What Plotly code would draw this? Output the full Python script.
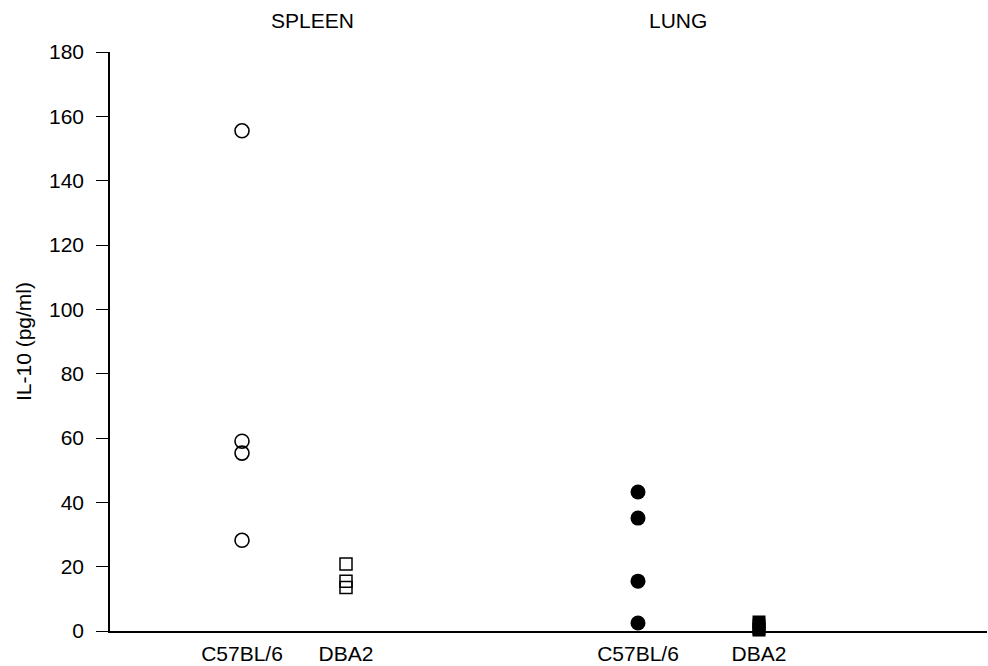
import plotly.graph_objects as go

# Data (IL-10, pg/ml)
spleen_c57 = [155.5, 59.0, 55.3, 28.2]
spleen_dba2 = [20.8, 15.5, 13.5]
lung_c57 = [43.2, 35.1, 15.5, 2.5]
lung_dba2 = [2.8, 1.8, 0.8, 0.3]

tick_labels = ["C57BL/6", "DBA2", "C57BL/6", "DBA2"]
group_titles = ["SPLEEN", "LUNG"]
y_ticks = [0, 20, 40, 60, 80, 100, 120, 140, 160, 180]

# layout positions of the four columns (axis units)
pos = [1.32, 2.36, 5.28, 6.49]
title_pos = [2.02, 5.68]

font = "Liberation Sans, Arial, sans-serif"

fig = go.Figure()
series = [
    (spleen_c57, "circle-open", 14, 1.6),
    (spleen_dba2, "square-open", 12, 1.5),
    (lung_c57, "circle", 15, 0),
    (lung_dba2, "square", 13, 0),
]
for i, (vals, sym, size, lw) in enumerate(series):
    fig.add_trace(go.Scatter(
        x=[pos[i]] * len(vals), y=vals, mode="markers",
        marker=dict(symbol=sym, size=size, color="black",
                    line=dict(color="black", width=lw)),
        showlegend=False, cliponaxis=False,
    ))

for t, xp in zip(group_titles, title_pos):
    fig.add_annotation(x=xp, xref="x", y=1, yref="paper", yanchor="middle",
                       yshift=32, text=t, showarrow=False,
                       font=dict(family=font, size=21, color="black"))

fig.update_layout(
    width=988, height=666,
    margin=dict(l=110, r=1, t=52, b=35),
    paper_bgcolor="white", plot_bgcolor="white",
    font=dict(family=font, size=21, color="black"),
)
fig.update_xaxes(
    range=[0, 8.77], tickvals=pos, ticktext=tick_labels,
    showline=True, linecolor="black", linewidth=1.5, ticks="",
    showgrid=False, zeroline=False, ticklabelstandoff=3,
    tickfont=dict(family=font, size=21, color="black"),
)
fig.update_yaxes(
    range=[0, 180], tickvals=y_ticks,
    showline=True, linecolor="black", linewidth=1.5,
    ticks="outside", ticklen=12, tickwidth=1.2, tickcolor="black",
    showgrid=False, zeroline=False, ticklabelstandoff=8,
    tickfont=dict(family=font, size=21, color="black"),
    title=dict(text="IL-10 (pg/ml)", standoff=12,
               font=dict(family=font, size=21, color="black")),
)
fig.write_html("out.html")
